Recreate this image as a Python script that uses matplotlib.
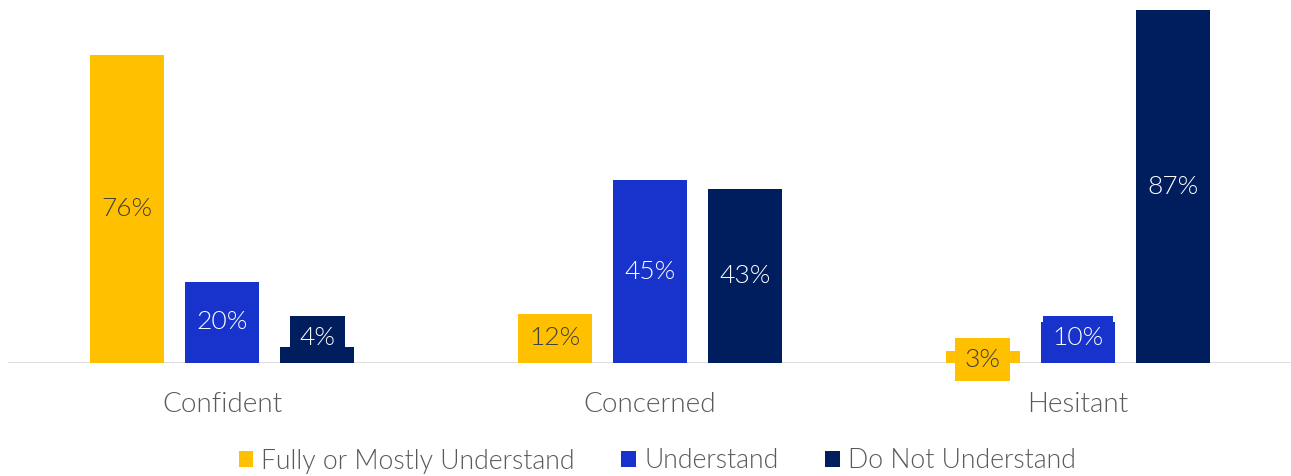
import matplotlib
matplotlib.use("Agg")
import matplotlib.pyplot as plt
from matplotlib.patches import Patch
import numpy as np

categories = ["Confident", "Concerned", "Hesitant"]
series_names = ["Fully or Mostly Understand", "Understand", "Do Not Understand"]
fully = [76, 12, 3]
understand = [20, 45, 10]
not_understand = [4, 43, 87]

colors = ["#FFC000", "#1733CC", "#001E5E"]
label_colors = ["#404040", "white", "white"]
text_gray = "#595959"

plt.rcParams["font.family"] = ["Lato", "DejaVu Sans"]
plt.rcParams["font.weight"] = 300

fig = plt.figure(figsize=(12.91, 4.76), dpi=100)
ax = fig.add_axes([8 / 1291, 113 / 476, 1284 / 1291, 353 / 476])

x = np.arange(len(categories))
width = 0.175
step = 0.222
series = [fully, understand, not_understand]

for i, (vals, col, lcol) in enumerate(zip(series, colors, label_colors)):
    pos = x + (i - 1) * step
    ax.bar(pos, vals, width=width, color=col, zorder=2)
    for px, v in zip(pos, vals):
        # keep small labels readable: lift them to a minimum height
        y = max(v / 2, 6.2)
        if v < 4:
            y = v / 4
        ax.text(px, y, f"{v}%", ha="center", va="center", fontsize=19,
                color=lcol, zorder=3,
                bbox=dict(boxstyle="square,pad=0.36", fc=col, ec="none"))

ax.set_xlim(-0.5, 2.5)
ax.set_ylim(0, 87)
ax.axhline(0, color="#D9D9D9", lw=2, zorder=1)
for s in ax.spines.values():
    s.set_visible(False)
ax.set_yticks([])
ax.set_xticks(x)
ax.set_xticklabels(categories, fontsize=20, color=text_gray)
ax.tick_params(axis="x", length=0, pad=21)

handles = [Patch(facecolor=c, edgecolor="none") for c in colors]
fig.legend(handles, series_names, loc="center", bbox_to_anchor=(657 / 1291, 1 - 461 / 476),
           ncol=3, frameon=False, fontsize=19.2, labelcolor=text_gray,
           handlelength=0.55, handleheight=0.55, handletextpad=0.3, columnspacing=1.75)

fig.savefig("out.png", dpi=100)
